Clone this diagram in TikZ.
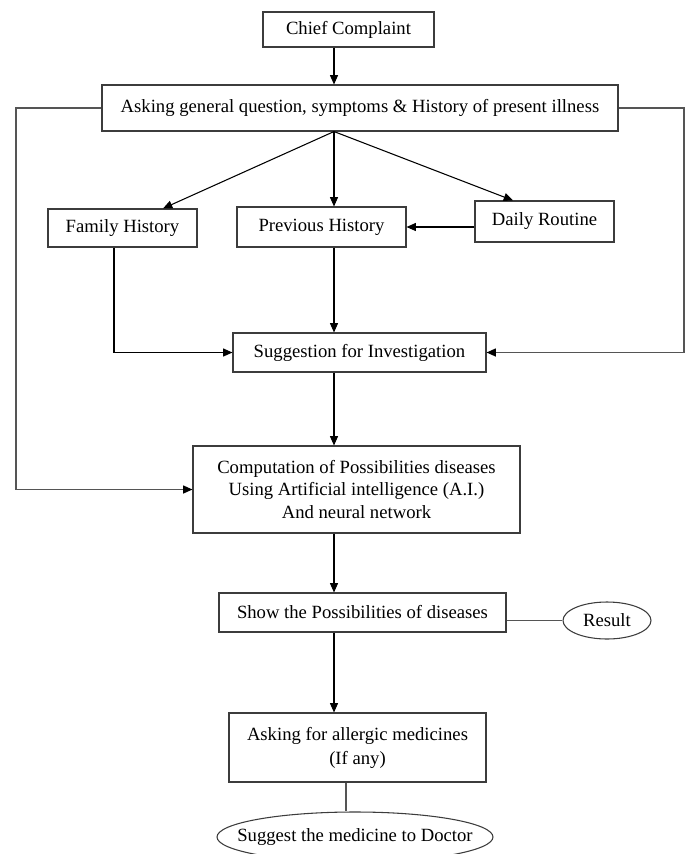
\documentclass[tikz,border=0pt]{standalone}
\usepackage{fontspec}
\setmainfont{Liberation Serif}
\usepackage{tikz}
\usepackage{xcolor}
\usetikzlibrary{positioning, arrows.meta, shapes.geometric, calc}
\definecolor{boxgray}{RGB}{60, 60, 60}
\definecolor{railgray}{RGB}{85, 85, 85}
\tikzset{
    flowbox/.style={rectangle, draw=boxgray, line width=0.8pt, inner sep=0pt, align=center, font=\fontsize{14}{16.8}\selectfont},
    flowoval/.style={ellipse, draw=boxgray, line width=0.8pt, inner xsep=-20pt, inner ysep=0pt, font=\fontsize{14}{16.8}\selectfont},
    flowarrow/.style={draw=black, line width=0.8pt, -{Triangle[length=7pt, width=6pt]}},
    flowline/.style={draw=railgray, line width=0.9pt},
    railarrow/.style={flowline, -{Triangle[length=7pt, width=6pt, fill=black, color=black]}}
}

\begin{document}
\begin{tikzpicture}[x=0.75pt, y=-0.75pt]
    \useasboundingbox (0,0) rectangle (691,854);
    % rails and spine
    \coordinate (spine) at (334,0);
    \coordinate (leftrail) at (16,0);
    \coordinate (rightrail) at (684,0);

    \node[flowbox, minimum width=128.25pt, minimum height=26.25pt] (chief) at (348.5,29.5) {Chief Complaint};
    \node[flowbox, minimum width=387pt, minimum height=34.5pt] (asking) at (360,108) {Asking general question, symptoms \& History of present illness};
    \node[flowbox, minimum width=111.75pt, minimum height=28.5pt] (family) at (122.5,228) {Family History};
    \node[flowbox, minimum width=126.75pt, minimum height=30pt] (previous) at (321.5,227) {Previous History};
    \node[flowbox, minimum width=104.25pt, minimum height=30.75pt] (daily) at (544.5,221.5) {Daily Routine};
    \node[flowbox, minimum width=189.75pt, minimum height=29.25pt] (suggestion) at (359.5,352.5) {Suggestion for Investigation};
    \node[flowbox, minimum width=245.25pt, minimum height=65.25pt] (computation) at (356.5,489.5) {Computation of Possibilities diseases\\Using Artificial intelligence (A.I.)\\And neural network};
    \node[flowbox, minimum width=215.25pt, minimum height=29.25pt] (show) at (362.5,612.5) {Show the Possibilities of diseases};
    \node[flowoval, minimum width=66pt, minimum height=27.75pt] (result) at (607,620.5) {Result};
    \node[flowbox, minimum width=192.75pt, minimum height=51.75pt] (allergic) at (357.5,747.5) {Asking for allergic medicines\\[1.2pt](If any)};
    \node[flowoval, minimum width=207pt, minimum height=37.5pt] (suggest) at (355,837) {Suggest the medicine to Doctor};

    % main flow
    \draw[flowarrow] (chief.south -| spine) -- (asking.north -| spine);
    \draw[flowarrow] (asking.south -| spine) -- ($(family.north)+(40.5,0)$);
    \draw[flowarrow] (asking.south -| spine) -- (previous.north -| spine);
    \draw[flowarrow] (asking.south -| spine) -- ($(daily.north)+(-31.5,0)$);
    \draw[flowarrow] (daily.west |- previous.east) -- (previous.east);
    \draw[flowarrow] ($(family.south)+(-8.5,0)$) |- (suggestion.west);
    \draw[flowarrow] (previous.south -| spine) -- (suggestion.north -| spine);
    \draw[flowarrow] (suggestion.south -| spine) -- (computation.north -| spine);
    \draw[flowarrow] (computation.south -| spine) -- (show.north -| spine);
    \draw[flowarrow] (show.south -| spine) -- (allergic.north -| spine);

    % side rails
    \draw[railarrow] (asking.east) -- (asking.east -| rightrail) |- (suggestion.east);
    \draw[railarrow] (asking.west) -- (asking.west -| leftrail) |- (computation.west);

    % plain links
    \draw[flowline] (result.west -| show.east) -- (result.west);
    \draw[flowline] (allergic.south) ++(-11.5,0) coordinate (allergicfoot) -- (allergicfoot |- suggest.north);
\end{tikzpicture}
\end{document}
